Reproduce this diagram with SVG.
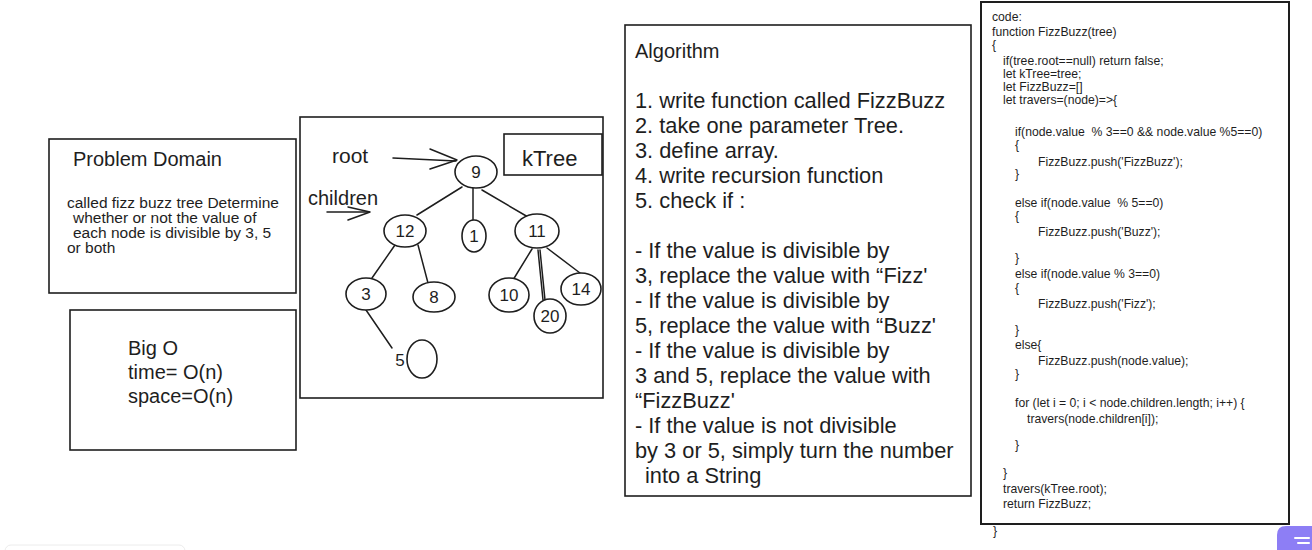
<svg xmlns="http://www.w3.org/2000/svg" width="1312" height="550" viewBox="0 0 1312 550">
<defs>
<style>
.box{fill:none;stroke:#1e1e1e;stroke-width:1.6}
.node{fill:#fff;stroke:#1e1e1e;stroke-width:1.6}
.edge{fill:none;stroke:#1e1e1e;stroke-width:1.5;stroke-linecap:round;stroke-linejoin:round}
.t{font-family:"Liberation Sans",Arial,sans-serif;fill:#1e1e1e}
.f20{font-size:20px}
.alg{font-size:21.8px}
.code{font-size:12.2px;white-space:pre}
.pd{font-size:15.5px}
.num{font-size:17px;text-anchor:middle}
</style>
</defs>
<rect width="1312" height="550" fill="#ffffff"/>

<g id="problem-domain">
<rect class="box" x="49" y="139" width="247" height="154"/>
<text class="t f20" x="73" y="166">Problem Domain</text>
<text class="t pd" x="67" y="208">called fizz buzz tree Determine</text>
<text class="t pd" x="73" y="223">whether or not the value of</text>
<text class="t pd" x="73" y="238">each node is divisible by 3, 5</text>
<text class="t pd" x="67" y="253">or both</text>
</g>

<g id="big-o">
<rect class="box" x="70" y="310" width="226" height="140"/>
<text class="t f20" x="128" y="355">Big O</text>
<text class="t f20" x="128" y="379">time= O(n)</text>
<text class="t f20" x="128" y="403">space=O(n)</text>
</g>

<g id="tree-frame">
<rect class="box" x="300" y="117" width="303" height="281"/>
</g>

<g id="ktree-label">
<rect class="box" x="504" y="134" width="98" height="41"/>
<text class="t" font-size="22" x="522" y="166">kTree</text>
</g>

<g id="root-label">
<text class="t" font-size="21" x="332" y="163">root</text>
</g>

<g id="children-label">
<text class="t" font-size="20" x="308" y="205">children</text>
</g>

<g id="connectors">
<path class="edge" d="M393 158 L456 161"/>
<path class="edge" d="M430 149 L457 160 L430 169"/>
<path class="edge" d="M327 212 L369 212"/>
<path class="edge" d="M348 207 L370 212 L348 220"/>
<path class="edge" d="M462 187 L417 215"/>
<path class="edge" d="M473 188 L473 220"/>
<path class="edge" d="M482 190 L528 217"/>
<path class="edge" d="M395 245 L372 278"/>
<path class="edge" d="M418 245 L428 283"/>
<path class="edge" d="M532 249 L513 280"/>
<path class="edge" d="M538 250 L543 300"/>
<path class="edge" d="M540 250 L545 300"/>
<path class="edge" d="M547 248 L580 273"/>
<path class="edge" d="M366 310 L392 348"/>
</g>

<g id="node-9"><ellipse class="node" cx="476" cy="172" rx="21" ry="16"/><text class="t num" x="476" y="178">9</text></g>
<g id="node-12"><ellipse class="node" cx="405" cy="231" rx="21" ry="16"/><text class="t num" x="405" y="237">12</text></g>
<g id="node-1"><ellipse class="node" cx="474" cy="236" rx="12" ry="16"/><text class="t num" x="474" y="242">1</text></g>
<g id="node-11"><ellipse class="node" cx="537" cy="231" rx="22" ry="17"/><text class="t num" x="537" y="237">11</text></g>
<g id="node-3"><ellipse class="node" cx="366" cy="294" rx="20" ry="16"/><text class="t num" x="366" y="300">3</text></g>
<g id="node-8"><ellipse class="node" cx="434" cy="297" rx="21" ry="15"/><text class="t num" x="434" y="303">8</text></g>
<g id="node-10"><ellipse class="node" cx="509" cy="295" rx="20" ry="17"/><text class="t num" x="509" y="301">10</text></g>
<g id="node-20"><ellipse class="node" cx="550" cy="316" rx="16" ry="17"/><text class="t num" x="550" y="322">20</text></g>
<g id="node-14"><ellipse class="node" cx="581" cy="289" rx="20" ry="16"/><text class="t num" x="581" y="295">14</text></g>
<g id="node-5"><ellipse class="node" cx="422" cy="359" rx="15" ry="19"/><text class="t num" x="400" y="366">5</text></g>

<g id="algorithm">
<rect class="box" x="625" y="25" width="346" height="471"/>
<text class="t f20" x="635" y="58">Algorithm</text>
<text class="t alg" x="635" y="108">1. write function called FizzBuzz</text>
<text class="t alg" x="635" y="133">2. take one parameter Tree.</text>
<text class="t alg" x="635" y="158">3. define array.</text>
<text class="t alg" x="635" y="183">4. write recursion function</text>
<text class="t alg" x="635" y="208">5. check if :</text>
<text class="t alg" x="635" y="258">- If the value is divisible by</text>
<text class="t alg" x="635" y="283">3, replace the value with “Fizz'</text>
<text class="t alg" x="635" y="308">- If the value is divisible by</text>
<text class="t alg" x="635" y="333">5, replace the value with “Buzz'</text>
<text class="t alg" x="635" y="358">- If the value is divisible by</text>
<text class="t alg" x="635" y="383">3 and 5, replace the value with</text>
<text class="t alg" x="635" y="408">“FizzBuzz'</text>
<text class="t alg" x="635" y="433">- If the value is not divisible</text>
<text class="t alg" x="635" y="458">by 3 or 5, simply turn the number</text>
<text class="t alg" x="645" y="483">into a String</text>
</g>

<g id="code">
<rect class="box" x="981" y="2" width="308" height="522" style="stroke-width:2"/>
<text class="t code" x="992" y="21">code:</text>
<text class="t code" x="992" y="36">function FizzBuzz(tree)</text>
<text class="t code" x="992" y="49">{</text>
<text class="t code" x="1003" y="65">if(tree.root==null) return false;</text>
<text class="t code" x="1003" y="78">let kTree=tree;</text>
<text class="t code" x="1003" y="91">let FizzBuzz=[]</text>
<text class="t code" x="1003" y="104">let travers=(node)=&gt;{</text>
<text class="t code" x="1015" y="136">if(node.value  % 3==0 &amp;&amp; node.value %5==0)</text>
<text class="t code" x="1015" y="149">{</text>
<text class="t code" x="1038" y="166">FizzBuzz.push('FizzBuzz');</text>
<text class="t code" x="1015" y="178">}</text>
<text class="t code" x="1015" y="207">else if(node.value  % 5==0)</text>
<text class="t code" x="1015" y="220">{</text>
<text class="t code" x="1038" y="236">FizzBuzz.push('Buzz');</text>
<text class="t code" x="1015" y="262">}</text>
<text class="t code" x="1015" y="278">else if(node.value % 3==0)</text>
<text class="t code" x="1015" y="292">{</text>
<text class="t code" x="1038" y="308">FizzBuzz.push('Fizz');</text>
<text class="t code" x="1015" y="334">}</text>
<text class="t code" x="1015" y="349">else{</text>
<text class="t code" x="1038" y="365">FizzBuzz.push(node.value);</text>
<text class="t code" x="1015" y="378">}</text>
<text class="t code" x="1015" y="407">for (let i = 0; i &lt; node.children.length; i++) {</text>
<text class="t code" x="1027" y="423">travers(node.children[i]);</text>
<text class="t code" x="1015" y="449">}</text>
<text class="t code" x="1003" y="477">}</text>
<text class="t code" x="1003" y="493">travers(kTree.root);</text>
<text class="t code" x="1003" y="508">return FizzBuzz;</text>
<text class="t code" x="993" y="535">}</text>
</g>

<g id="ui-help-button">
<path d="M1277 550 L1277 535 Q1277 526 1286 526 L1312 526 L1312 550 Z" fill="#8d7ef5"/>
<rect x="1294" y="537" width="16" height="2" rx="1" fill="#ffffff"/>
<rect x="1297" y="542" width="13" height="2" rx="1" fill="#ffffff"/>
</g>
<g id="ui-panel">
<rect x="5" y="545" width="180" height="20" rx="6" fill="#ffffff" stroke="#ececec" stroke-width="1"/>
</g>
</svg>
